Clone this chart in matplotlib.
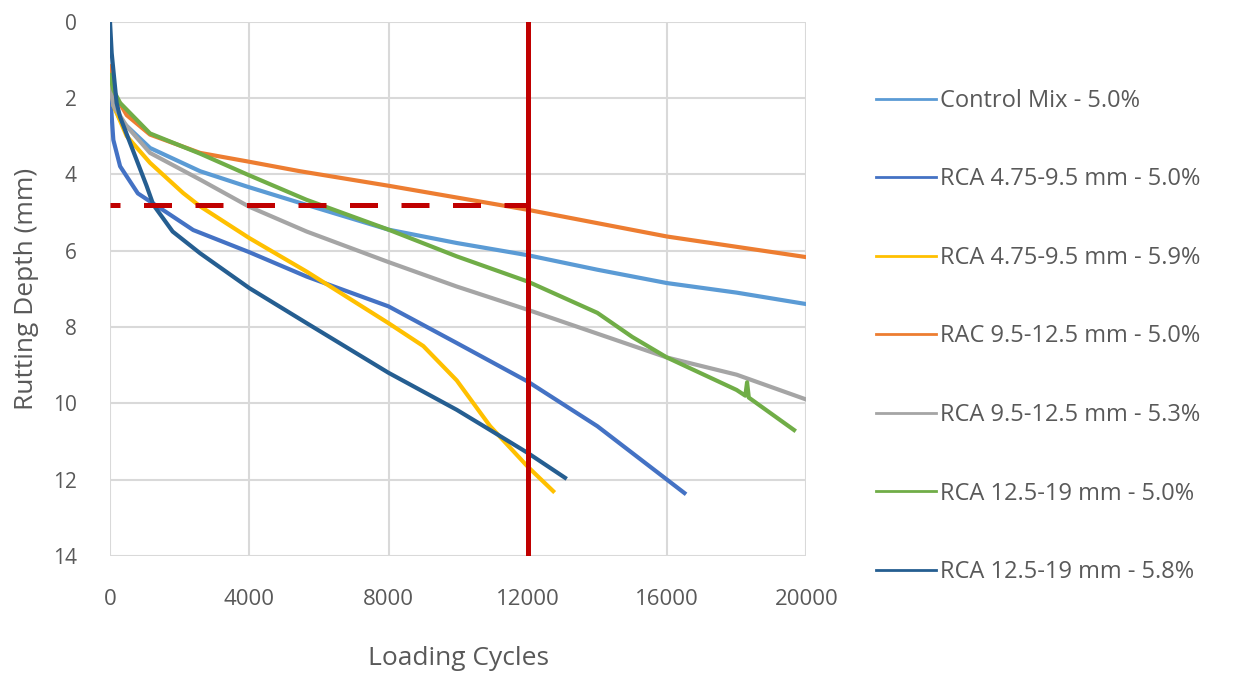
import matplotlib
matplotlib.use('Agg')
import matplotlib.pyplot as plt

# -------------------------------
# Data
# -------------------------------
control_x = [0, 100, 290, 1150, 2590, 3930, 5460, 8000, 9960, 12000, 14000, 16000, 18000, 20000]
control_y = [1.85, 2.2, 2.57, 3.31, 3.92, 4.32, 4.75, 5.45, 5.8, 6.12, 6.5, 6.85, 7.1, 7.4]

rca475_50_x = [0, 96, 290, 800, 1630, 2390, 4000, 5650, 8000, 9960, 12000, 14000, 16000, 16500]
rca475_50_y = [1.85, 3.1, 3.79, 4.5, 5.0, 5.46, 6.04, 6.68, 7.46, 8.42, 9.43, 10.6, 12.0, 12.35]

rca475_59_x = [0, 100, 480, 1150, 2100, 2590, 4000, 5650, 8000, 9000, 9960, 10920, 12000, 12730]
rca475_59_y = [1.2, 2.2, 3.0, 3.7, 4.49, 4.84, 5.67, 6.55, 7.9, 8.5, 9.4, 10.6, 11.66, 12.3]

rac95_x = [0, 100, 480, 1150, 2590, 3930, 5460, 8000, 12000, 16000, 20000]
rac95_y = [1.17, 1.85, 2.45, 2.96, 3.44, 3.66, 3.92, 4.3, 4.93, 5.63, 6.17]

rca95_x = [0, 100, 480, 1150, 2590, 4000, 5650, 8000, 9960, 12000, 16000, 18000, 20000]
rca95_y = [1.7, 2.2, 2.74, 3.44, 4.14, 4.85, 5.5, 6.3, 6.94, 7.55, 8.8, 9.25, 9.9]

rca125_50_x = [0, 100, 290, 1150, 2590, 3930, 5650, 8000, 9960, 12000, 14000, 15000, 16000,
               18000, 18250, 18300, 18350, 19650]
rca125_50_y = [1.4, 1.8, 2.13, 2.93, 3.46, 4.0, 4.67, 5.45, 6.15, 6.81, 7.63, 8.26, 8.8,
               9.65, 9.8, 9.45, 9.85, 10.7]

rca125_58_x = [0, 48, 190, 290, 670, 1050, 1245, 1800, 2590, 4000, 5650, 8000, 9960, 10920,
               12000, 13070]
rca125_58_y = [0.0, 0.82, 2.13, 2.5, 3.4, 4.3, 4.8, 5.5, 6.07, 6.98, 7.9, 9.2, 10.17, 10.7,
               11.3, 11.95]

series = [
    ('Control Mix - 5.0%', control_x, control_y, '#5B9BD5'),
    ('RCA 4.75-9.5 mm - 5.0%', rca475_50_x, rca475_50_y, '#4472C4'),
    ('RCA 4.75-9.5 mm - 5.9%', rca475_59_x, rca475_59_y, '#FFC000'),
    ('RAC 9.5-12.5 mm - 5.0%', rac95_x, rac95_y, '#ED7D31'),
    ('RCA 9.5-12.5 mm - 5.3%', rca95_x, rca95_y, '#A5A5A5'),
    ('RCA 12.5-19 mm - 5.0%', rca125_50_x, rca125_50_y, '#70AD47'),
    ('RCA 12.5-19 mm - 5.8%', rca125_58_x, rca125_58_y, '#255E91'),
]

limit_cycles = 12000
limit_depth = 4.8

x_ticks = [0, 4000, 8000, 12000, 16000, 20000]
y_ticks = [0, 2, 4, 6, 8, 10, 12, 14]

# -------------------------------
# Plot
# -------------------------------
plt.rcParams['font.family'] = ['Open Sans', 'DejaVu Sans']
text_color = '#595959'

fig = plt.figure(figsize=(12.5, 6.86), dpi=100)
ax = fig.add_axes([0.088, 0.1895, 0.557, 0.779])

for label, xs, ys, color in series:
    ax.plot(xs, ys, color=color, lw=3.0, label=label, solid_joinstyle='round')

ax.axvline(limit_cycles, color='#C00000', lw=3.6, zorder=5)
ax.plot([0, limit_cycles], [limit_depth, limit_depth], color='#C00000', lw=3.6,
        linestyle=(3.6, (5.6, 4.7)), zorder=5)

ax.set_xlim(0, 20000)
ax.set_ylim(14, 0)
ax.set_xticks(x_ticks)
ax.set_yticks(y_ticks)
ax.grid(True, color='#D9D9D9', lw=1.5)
ax.set_axisbelow(True)
for s in ax.spines.values():
    s.set_visible(False)
ax.tick_params(length=0, colors=text_color)
ax.tick_params(axis='x', labelsize=16, pad=24)
ax.tick_params(axis='y', labelsize=15, pad=24)

ax.set_ylabel('Rutting Depth (mm)', fontsize=19, color=text_color, labelpad=10)
ax.set_xlabel('Loading Cycles', fontsize=19, color=text_color, labelpad=26)

leg = ax.legend(loc='upper left', bbox_to_anchor=(1.069, 0.914), frameon=False,
                fontsize=17, labelspacing=2.31, handlelength=2.54, handletextpad=0.2,
                labelcolor=text_color)
for h in leg.get_lines():
    h.set_linewidth(2)

fig.savefig('out.png', dpi=100)
plt.close(fig)
